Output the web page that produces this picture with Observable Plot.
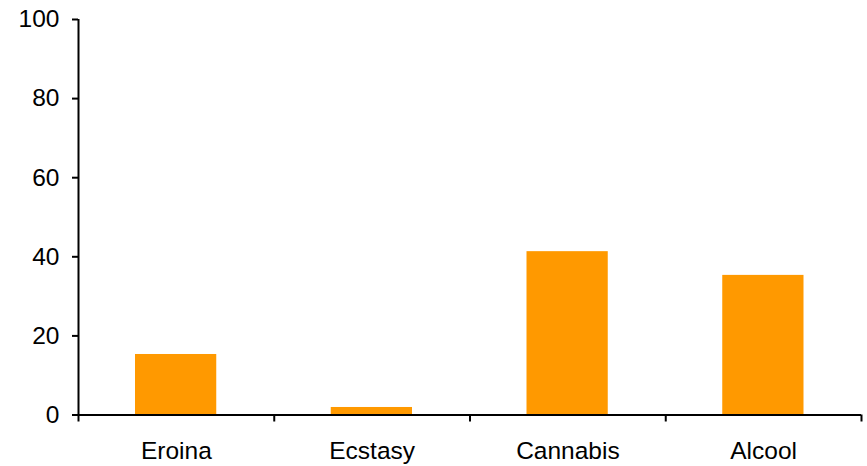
<!DOCTYPE html>
<html>
<head>
<meta charset="utf-8">
<script src="https://cdn.jsdelivr.net/npm/d3@7"></script>
<script src="https://cdn.jsdelivr.net/npm/@observablehq/plot@0.6"></script>
<style>
  html, body { margin: 0; padding: 0; background: #fff; }
</style>
</head>
<body>
<div id="chart"></div>
<script>
const categories = ["Eroina", "Ecstasy", "Cannabis", "Alcool"];
const values = [15.3, 1.9, 41.3, 35.3];
const yTicks = [0, 20, 40, 60, 80, 100];

const data = categories.map((c, i) => ({ c, v: values[i], i }));
const boundaries = d3.range(categories.length + 1);

const chart = Plot.plot({
  width: 867,
  height: 466,
  marginLeft: 78,
  marginRight: 6,
  marginTop: 19,
  marginBottom: 51.5,
  x: { type: "linear", domain: [0, categories.length], axis: null, label: null },
  y: { domain: [0, 100], axis: null, label: null },
  style: { fontFamily: "'Liberation Sans', Arial, sans-serif", fontSize: "24px", color: "black", background: "white" },
  marks: [
    Plot.rectY(data, { x1: "i", x2: d => d.i + 1, y: "v", fill: "#ff9900", insetLeft: 57, insetRight: 57.5 }),
    Plot.axisY(yTicks, { tickSize: 6, tickPadding: 13, fontSize: 24.5, strokeWidth: 2, stroke: "black", fill: "black", label: null }),
    Plot.axisX(boundaries, { tickSize: 7, tickFormat: () => "", strokeWidth: 2, stroke: "black", label: null }),
    Plot.ruleY([0], { stroke: "black", strokeWidth: 2 }),
    Plot.ruleX([0], { stroke: "black", strokeWidth: 2 }),
    Plot.text(data, { x: d => d.i + 0.5, y: () => 0, text: "c", lineAnchor: "top", dy: 27, fontSize: 24.5, fill: "black" })
  ]
});
document.getElementById("chart").appendChild(chart);
</script>
</body>
</html>
